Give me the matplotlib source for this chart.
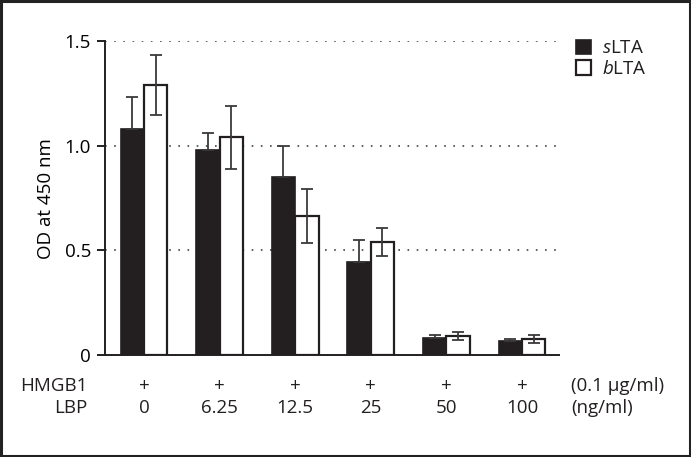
import numpy as np
import matplotlib
matplotlib.use('Agg')
import matplotlib.pyplot as plt
from matplotlib.patches import Rectangle

plt.rcParams['font.family'] = ['Open Sans', 'DejaVu Sans']
plt.rcParams['mathtext.fontset'] = 'custom'
plt.rcParams['mathtext.rm'] = 'Open Sans'
plt.rcParams['mathtext.it'] = 'Open Sans:italic'
plt.rcParams['font.size'] = 13.5
plt.rcParams['text.color'] = '#231f20'

# data
lbp_labels = ['0', '6.25', '12.5', '25', '50', '100']
hmgb1_labels = ['+', '+', '+', '+', '+', '+']
slta = [1.08, 0.98, 0.85, 0.445, 0.08, 0.065]
slta_err = [0.155, 0.08, 0.15, 0.105, 0.015, 0.012]
blta = [1.29, 1.04, 0.665, 0.54, 0.09, 0.078]
blta_err = [0.145, 0.15, 0.13, 0.065, 0.02, 0.02]
yticks = [0, 0.5, 1.0, 1.5]
ytick_labels = ['0', '0.5', '1.0', '1.5']

ink = '#231f20'
fig = plt.figure(figsize=(6.91, 4.57), dpi=100)
ax = fig.add_axes([0.152, 0.223, 0.657, 0.687])

x = np.arange(len(slta))
w = 0.31
ax.bar(x - w / 2, slta, w, color=ink, edgecolor=ink, linewidth=1.2, zorder=3,
       label=r'$\it{s}$LTA')
ax.bar(x + w / 2, blta, w, color='white', edgecolor=ink, linewidth=1.6, zorder=3,
       label=r'$\it{b}$LTA')
ax.errorbar(x - w / 2, slta, yerr=[np.zeros(len(slta)), slta_err], fmt='none',
            ecolor='#3a3a3a', elinewidth=1.3, capsize=4.5, capthick=1.3, zorder=4)
ax.errorbar(x + w / 2, blta, yerr=blta_err, fmt='none',
            ecolor='#3a3a3a', elinewidth=1.3, capsize=4.5, capthick=1.3, zorder=4)

for yv in [0.5, 1.0, 1.5]:
    ax.axhline(yv, color='#444444', linestyle=(0, (1, 4.5)), linewidth=1.2, zorder=1)

ax.set_xlim(-0.515, 5.49)
ax.set_ylim(0, 1.5)
ax.set_yticks(yticks)
ax.set_yticklabels(ytick_labels)
ax.set_xticks([])
ax.set_ylabel('OD at 450 nm', labelpad=7)
for s in ['top', 'right']:
    ax.spines[s].set_visible(False)
for s in ['left', 'bottom']:
    ax.spines[s].set_linewidth(1.4)
    ax.spines[s].set_color(ink)
ax.tick_params(axis='y', direction='out', length=6, width=1.4, color=ink, pad=4)
ax.spines['left'].set_bounds(0, 1.5)

# rows below the axis
for xi, h, l in zip(x, hmgb1_labels, lbp_labels):
    xf = fig.transFigure.inverted().transform(ax.transData.transform((xi, 0)))[0]
    fig.text(xf, 0.155, h, ha='center', va='center')
    fig.text(xf, 0.108, l, ha='center', va='center')
fig.text(0.126, 0.155, 'HMGB1', ha='right', va='center')
fig.text(0.126, 0.108, 'LBP', ha='right', va='center')
fig.text(0.827, 0.155, '(0.1 µg/ml)', ha='left', va='center')
fig.text(0.827, 0.108, '(ng/ml)', ha='left', va='center')

fig.legend(loc='upper left', bbox_to_anchor=(0.822, 0.93), frameon=False,
           handlelength=0.85, handleheight=0.85, handletextpad=0.55, labelspacing=0.15,
           borderaxespad=0)

fig.patches.append(Rectangle((0.002, 0.003), 0.996, 0.994, transform=fig.transFigure,
                             fill=False, edgecolor='#222222', linewidth=2.2))

plt.savefig('out.png', dpi=100)
